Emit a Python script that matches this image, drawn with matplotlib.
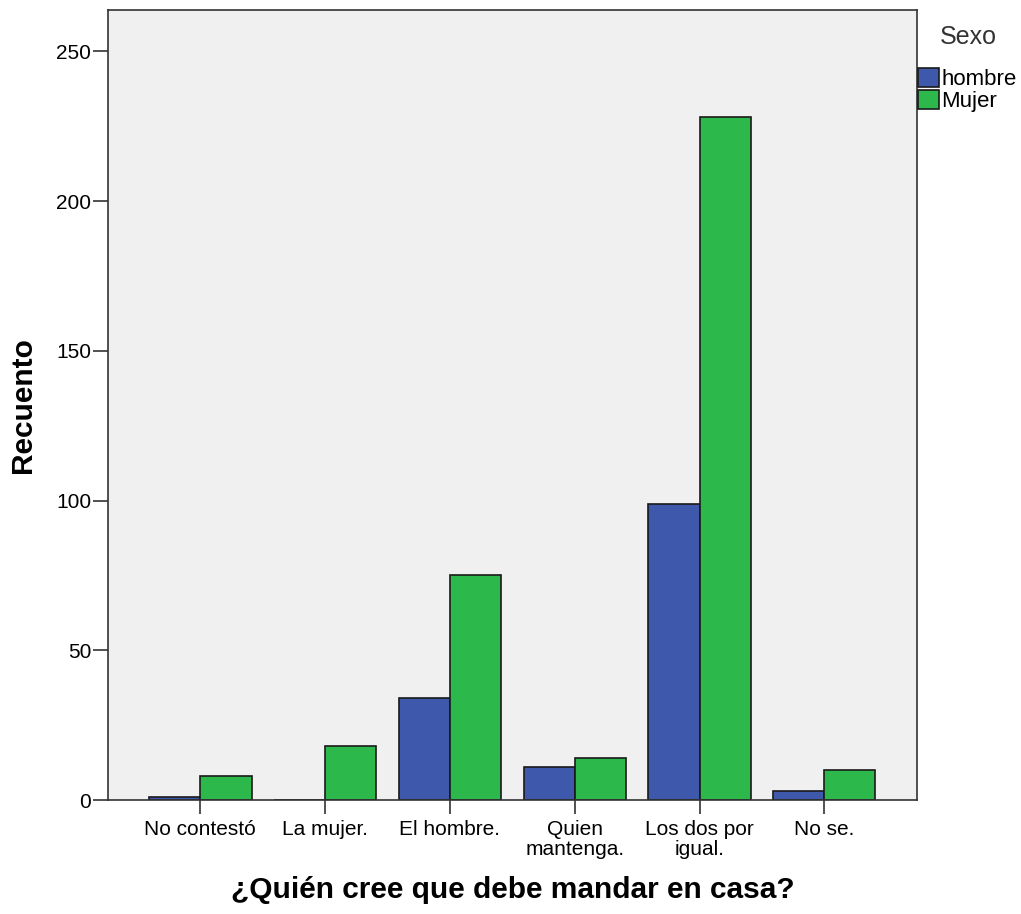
import numpy as np
import matplotlib.pyplot as plt

plt.rcParams["font.family"] = ["Liberation Sans", "DejaVu Sans"]

categorias = ["No contestó", "La mujer.", "El hombre.", "Quien\nmantenga.", "Los dos por\nigual.", "No se."]
hombre = [1, 0, 34, 11, 99, 3]
mujer = [8, 18, 75, 14, 228, 10]

fig = plt.figure(figsize=(10.21, 9.14), dpi=100)
ax = fig.add_axes([0.1058, 0.1247, 0.792, 0.864])
ax.set_facecolor("#F0F0F0")

x = np.arange(len(categorias))
w = 0.41
ax.bar(x - w / 2, hombre, w, color="#3E58AC", edgecolor="#1a1a1a", linewidth=1.2, label="hombre")
ax.bar(x + w / 2, mujer, w, color="#2DB84C", edgecolor="#1a1a1a", linewidth=1.2, label="Mujer")

ax.set_xlim(-0.74, 5.74)
ax.set_ylim(0, 263.7)
ax.set_yticks([0, 50, 100, 150, 200, 250])
ax.set_xticks(x)
ax.set_xticklabels(categorias, fontsize=15, linespacing=1.05)
ax.tick_params(axis="y", labelsize=15, length=11, width=1.2, color="#333333", pad=1)
ax.tick_params(axis="x", length=10, width=1.2, color="#333333", pad=4.5)
for s in ax.spines.values():
    s.set_color("#333333")
    s.set_linewidth(1.2)

ax.set_ylabel("Recuento", fontsize=21.5, fontweight="bold", va="center")
ax.yaxis.set_label_coords(-0.105, 0.5)
ax.set_xlabel("¿Quién cree que debe mandar en casa?", fontsize=21.5, fontweight="bold", va="center")
ax.xaxis.set_label_coords(0.5, -0.114)

fig.text(0.9486, 0.959, "Sexo", ha="center", va="center", fontsize=18, color="#333333")
leg = ax.legend(loc="upper left", bbox_to_anchor=(0.899, 0.926), bbox_transform=fig.transFigure,
                frameon=False, fontsize=16, handlelength=0.95, handleheight=0.95,
                handletextpad=0.1, borderaxespad=0.0, borderpad=0.0, labelspacing=0.0)
for h in leg.legend_handles:
    h.set_edgecolor("#1a1a1a")

fig.savefig("out.png", dpi=100)
